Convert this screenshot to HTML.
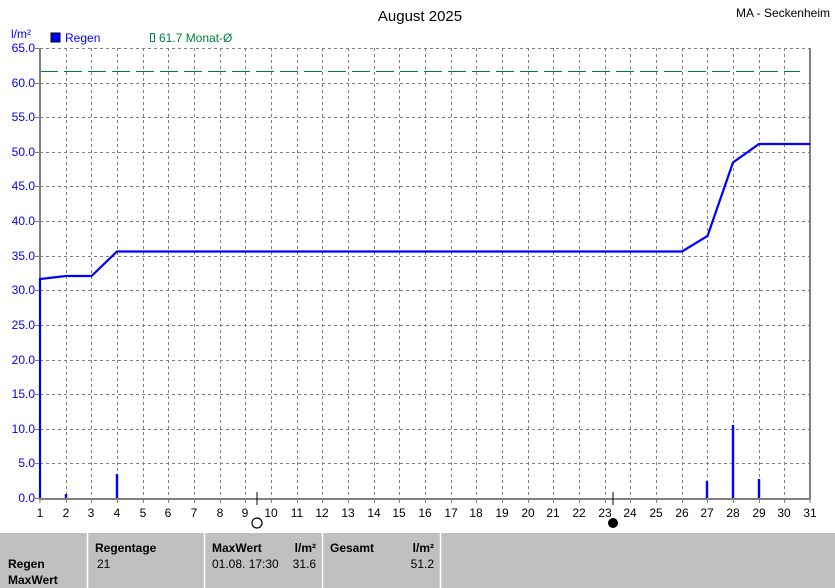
<!DOCTYPE html>
<html><head><meta charset="utf-8"><style>
body{margin:0;background:#fff;width:835px;height:588px;overflow:hidden;font-family:"Liberation Sans",sans-serif}
svg{display:block}
</style></head><body>
<svg width="835" height="588" xmlns="http://www.w3.org/2000/svg" font-family="Liberation Sans, sans-serif" font-size="12">
<rect width="835" height="588" fill="#fff"/>
<text x="420" y="21" font-size="15" text-anchor="middle" fill="#000">August 2025</text>
<text x="830" y="17" font-size="12" text-anchor="end" fill="#000">MA - Seckenheim</text>
<text x="11" y="38" fill="#0000ff" font-size="12">l/m²</text>
<rect x="51" y="33" width="9" height="9" fill="#0000ff" stroke="#000" stroke-width="1"/>
<text x="65" y="42" fill="#0000ff">Regen</text>
<path d="M150.5 41.5 V33.5 H154.5 M150.5 41.5 H154.5 M154.5 33.5 V41.5" stroke="#008040" fill="none"/>
<text x="159" y="42" fill="#008040">61.7 Monat-Ø</text>
<g id="grid" stroke="#808080" stroke-dasharray="3,3" stroke-width="1">
<script type="text/javascript"></script>
</g>
<g stroke="#808080" stroke-dasharray="3,3" stroke-width="1" fill="none">
<path d="M40 463.5H810M40 429.5H810M40 394.5H810M40 360.5H810M40 325.5H810M40 290.5H810M40 256.5H810M40 221.5H810M40 186.5H810M40 152.5H810M40 117.5H810M40 83.5H810M40 48.5H810"/>
<path d="M66.5 48V498M91.5 48V498M117.5 48V498M143.5 48V498M168.5 48V498M194.5 48V498M220.5 48V498M245.5 48V498M271.5 48V498M297.5 48V498M322.5 48V498M348.5 48V498M374.5 48V498M399.5 48V498M425.5 48V498M451.5 48V498M476.5 48V498M502.5 48V498M528.5 48V498M553.5 48V498M579.5 48V498M605.5 48V498M630.5 48V498M656.5 48V498M682.5 48V498M707.5 48V498M733.5 48V498M759.5 48V498M784.5 48V498"/>
</g>
<line x1="40" y1="71.5" x2="800" y2="71.5" stroke="#008040" stroke-dasharray="18,6"/>
<g fill="none" stroke="#808080" stroke-width="2">
<path d="M40 48V499H810V48"/>
</g>
<g stroke="#808080" stroke-width="1">
<path d="M40 498V503M66.5 498V503M91.5 498V503M117.5 498V503M143.5 498V503M168.5 498V503M194.5 498V503M220.5 498V503M245.5 498V503M271.5 498V503M297.5 498V503M322.5 498V503M348.5 498V503M374.5 498V503M399.5 498V503M425.5 498V503M451.5 498V503M476.5 498V503M502.5 498V503M528.5 498V503M553.5 498V503M579.5 498V503M605.5 498V503M630.5 498V503M656.5 498V503M682.5 498V503M707.5 498V503M733.5 498V503M759.5 498V503M784.5 498V503M810 498V503"/>
<path d="M35 48.5H40M35 83.5H40M35 117.5H40M35 152.5H40M35 186.5H40M35 221.5H40M35 256.5H40M35 290.5H40M35 325.5H40M35 360.5H40M35 394.5H40M35 429.5H40M35 463.5H40M35 498.5H40"/>
</g>
<g fill="#0000ff" text-anchor="end" font-size="12">
<text x="35" y="52">65.0</text><text x="35" y="87">60.0</text><text x="35" y="121">55.0</text><text x="35" y="156">50.0</text><text x="35" y="190">45.0</text><text x="35" y="225">40.0</text><text x="35" y="260">35.0</text><text x="35" y="294">30.0</text><text x="35" y="329">25.0</text><text x="35" y="364">20.0</text><text x="35" y="398">15.0</text><text x="35" y="433">10.0</text><text x="35" y="467">5.0</text><text x="35" y="502">0.0</text>
</g>
<g fill="#000" text-anchor="middle" font-size="12">
<text x="40" y="517">1</text><text x="66" y="517">2</text><text x="91" y="517">3</text><text x="117" y="517">4</text><text x="143" y="517">5</text><text x="168" y="517">6</text><text x="194" y="517">7</text><text x="220" y="517">8</text><text x="245" y="517">9</text><text x="271" y="517">10</text><text x="297" y="517">11</text><text x="322" y="517">12</text><text x="348" y="517">13</text><text x="374" y="517">14</text><text x="399" y="517">15</text><text x="425" y="517">16</text><text x="451" y="517">17</text><text x="476" y="517">18</text><text x="502" y="517">19</text><text x="528" y="517">20</text><text x="553" y="517">21</text><text x="579" y="517">22</text><text x="605" y="517">23</text><text x="630" y="517">24</text><text x="656" y="517">25</text><text x="682" y="517">26</text><text x="707" y="517">27</text><text x="733" y="517">28</text><text x="759" y="517">29</text><text x="784" y="517">30</text><text x="810" y="517">31</text>
</g>
<path d="M257 492V505M613 492V505" stroke="#000"/>
<circle cx="257" cy="523" r="5" fill="#fff" stroke="#000" stroke-width="1.2"/>
<circle cx="613" cy="523" r="4.5" fill="#000" stroke="#000"/>
<g stroke="#0000ff" stroke-width="2.4">
<path d="M66 494V498M117 474V498M707 481V498M733 425V498M759 479V498"/>
</g>
<polyline fill="none" stroke="#0000ff" stroke-width="2.2" points="40,498 40,279 66,276 91.5,276 117,251.5 682,251.5 707.5,236 733,162.5 759,144 810,144"/>
<rect x="0" y="533" width="835" height="55" fill="#c0c0c0"/>
<path d="M87.5 533V588M204.5 533V588M322.5 533V588M440.5 533V588" stroke="#fff" stroke-width="1.5"/>
<g font-size="12" fill="#000">
<text x="8" y="568" font-weight="bold">Regen</text>
<text x="8" y="584" font-weight="bold">MaxWert</text>
<text x="95" y="552" font-weight="bold">Regentage</text>
<text x="97" y="568">21</text>
<text x="212" y="552" font-weight="bold">MaxWert</text>
<text x="316" y="552" font-weight="bold" text-anchor="end">l/m²</text>
<text x="212" y="568">01.08.  17:30</text>
<text x="316" y="568" text-anchor="end">31.6</text>
<text x="330" y="552" font-weight="bold">Gesamt</text>
<text x="434" y="552" font-weight="bold" text-anchor="end">l/m²</text>
<text x="434" y="568" text-anchor="end">51.2</text>
</g>
</svg>
</body></html>
